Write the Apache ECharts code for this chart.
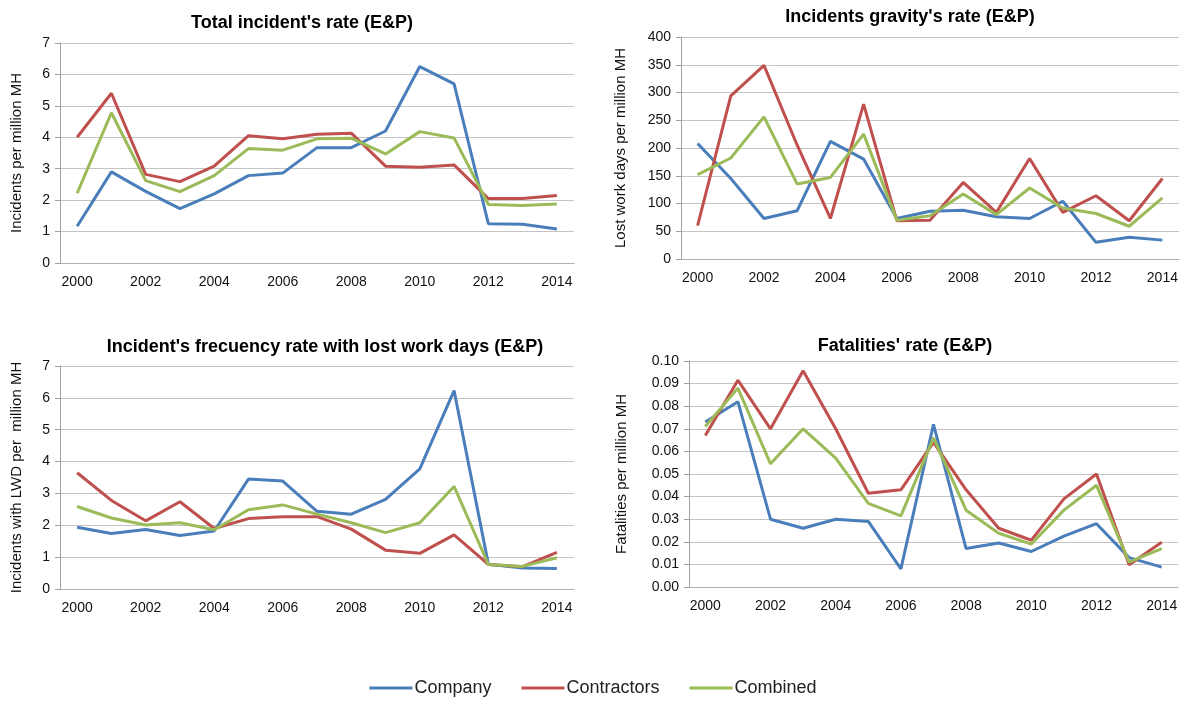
<!DOCTYPE html>
<html>
<head>
<meta charset="utf-8">
<script src="https://cdn.jsdelivr.net/npm/echarts@6/dist/echarts.min.js"></script>
<style>
  html, body { margin: 0; padding: 0; background: #fff; }
  #chart { width: 1186px; height: 704px; }
</style>
</head>
<body>
<div id="chart"></div>
<script>
// years on the x axis
const years = ['2000', '2001', '2002', '2003', '2004', '2005', '2006', '2007',
  '2008', '2009', '2010', '2011', '2012', '2013', '2014'];

// Total incident's rate
const totalCompany = [1.17, 2.9, 2.28, 1.73, 2.2, 2.78, 2.86, 3.67, 3.67, 4.2, 6.25, 5.7, 1.25, 1.23, 1.08];
const totalContractors = [4.0, 5.4, 2.82, 2.59, 3.08, 4.05, 3.95, 4.1, 4.13, 3.08, 3.05, 3.12, 2.05, 2.05, 2.15];
const totalCombined = [2.22, 4.78, 2.62, 2.27, 2.78, 3.64, 3.59, 3.95, 3.97, 3.47, 4.18, 3.98, 1.86, 1.83, 1.88];

// Incidents gravity's rate
const gravityCompany = [208, 145, 73, 87, 212, 180, 73, 86, 88, 76, 73, 104, 30, 39, 34];
const gravityContractors = [60, 294, 349, 205, 73, 279, 69, 70, 138, 84, 181, 84, 114, 69, 145];
const gravityCombined = [152, 182, 256, 135, 147, 225, 70, 78, 117, 80, 128, 92, 82, 59, 110];

// Incident's frecuency rate with lost work days
const lwdCompany = [1.94, 1.74, 1.87, 1.68, 1.82, 3.45, 3.39, 2.44, 2.35, 2.81, 3.77, 6.23, 0.78, 0.66, 0.64];
const lwdContractors = [3.65, 2.78, 2.14, 2.74, 1.9, 2.21, 2.27, 2.27, 1.88, 1.22, 1.12, 1.7, 0.77, 0.7, 1.15];
const lwdCombined = [2.59, 2.23, 2.01, 2.08, 1.86, 2.49, 2.64, 2.35, 2.08, 1.77, 2.08, 3.22, 0.77, 0.71, 0.98];

// Fatalities' rate
const fatalCompany = [0.073, 0.082, 0.030, 0.026, 0.030, 0.029, 0.008, 0.072, 0.017, 0.0195, 0.0157, 0.0225, 0.028, 0.013, 0.0088];
const fatalContractors = [0.067, 0.0915, 0.070, 0.0957, 0.070, 0.0415, 0.043, 0.064, 0.043, 0.026, 0.0207, 0.039, 0.050, 0.0098, 0.0198];
const fatalCombined = [0.071, 0.088, 0.0545, 0.070, 0.057, 0.037, 0.0315, 0.066, 0.034, 0.0238, 0.019, 0.034, 0.045, 0.011, 0.017];

const seriesNames = ['Company', 'Contractors', 'Combined'];
const colors = ['#4a7ebb', '#c0504d', '#9bbb59'];

const font = '"Liberation Sans", Arial, sans-serif';

// panel layout: grid box, title position, y axis
const panels = [
  { title: "Total incident's rate (E&P)", tx: 297, ty: 9,
    grid: { left: 60, top: 43, width: 514, height: 220 },
    name: 'Incidents per million MH', nameGap: 36, max: 7, interval: 1,
    data: [totalCompany, totalContractors, totalCombined] },
  { title: "Incidents gravity's rate (E&P)", tx: 905, ty: 3,
    grid: { left: 681, top: 37, width: 498, height: 222 },
    name: 'Lost work days per million MH', nameGap: 53, max: 400, interval: 50,
    data: [gravityCompany, gravityContractors, gravityCombined] },
  { title: "Incident's frecuency rate with lost work days (E&P)", tx: 320, ty: 333,
    grid: { left: 60, top: 366, width: 514, height: 223 },
    name: 'Incidents with LWD per  million MH', nameGap: 36, max: 7, interval: 1,
    data: [lwdCompany, lwdContractors, lwdCombined] },
  { title: "Fatalities' rate (E&P)", tx: 900, ty: 332,
    grid: { left: 689, top: 361, width: 489, height: 226 },
    name: 'Fatalities per million MH', nameGap: 60, max: 0.1, interval: 0.01, digits: 2,
    data: [fatalCompany, fatalContractors, fatalCombined] }
];

const chart = echarts.init(document.getElementById('chart'));

const option = {
  animation: false,
  backgroundColor: '#fff',
  title: panels.map(p => ({
    text: p.title,
    left: p.tx,
    top: p.ty,
    textAlign: 'center',
    textStyle: { fontFamily: font, fontSize: 18, fontWeight: 'bold', color: '#000' }
  })),
  legend: {
    data: seriesNames,
    bottom: 2,
    left: 'center',
    icon: 'rect',
    itemWidth: 43,
    itemHeight: 3,
    itemGap: 30,
    textStyle: { fontFamily: font, fontSize: 18, color: '#222', padding: [0, 0, 0, -3] }
  },
  grid: panels.map(p => p.grid),
  xAxis: panels.map((p, i) => ({
    type: 'category',
    gridIndex: i,
    data: years,
    boundaryGap: true,
    axisLine: { lineStyle: { color: '#b0b0b0', width: 1 } },
    axisTick: { interval: 0, length: 5, lineStyle: { color: '#b0b0b0' } },
    axisLabel: { interval: 1, margin: 12, fontFamily: font, fontSize: 14, color: '#111' },
    splitLine: { show: false }
  })),
  yAxis: panels.map((p, i) => ({
    type: 'value',
    gridIndex: i,
    min: 0,
    max: p.max,
    interval: p.interval,
    name: p.name,
    nameLocation: 'middle',
    nameRotate: 90,
    nameGap: p.nameGap,
    nameTextStyle: { fontFamily: font, fontSize: 15, color: '#111' },
    axisLine: { show: true, lineStyle: { color: '#a0a0a0', width: 1 } },
    axisTick: { show: true, length: 5, lineStyle: { color: '#a0a0a0' } },
    axisLabel: {
      margin: 10, fontFamily: font, fontSize: 14, color: '#111',
      formatter: v => p.digits ? v.toFixed(p.digits) : String(v)
    },
    splitLine: { lineStyle: { color: '#c4c4c4', width: 1 } }
  })),
  series: []
};

panels.forEach((p, i) => {
  p.data.forEach((vals, k) => {
    option.series.push({
      name: seriesNames[k],
      type: 'line',
      xAxisIndex: i,
      yAxisIndex: i,
      data: vals,
      symbol: 'none',
      color: colors[k],
      lineStyle: { width: 3, color: colors[k] }
    });
  });
});

chart.setOption(option);
</script>
</body>
</html>
